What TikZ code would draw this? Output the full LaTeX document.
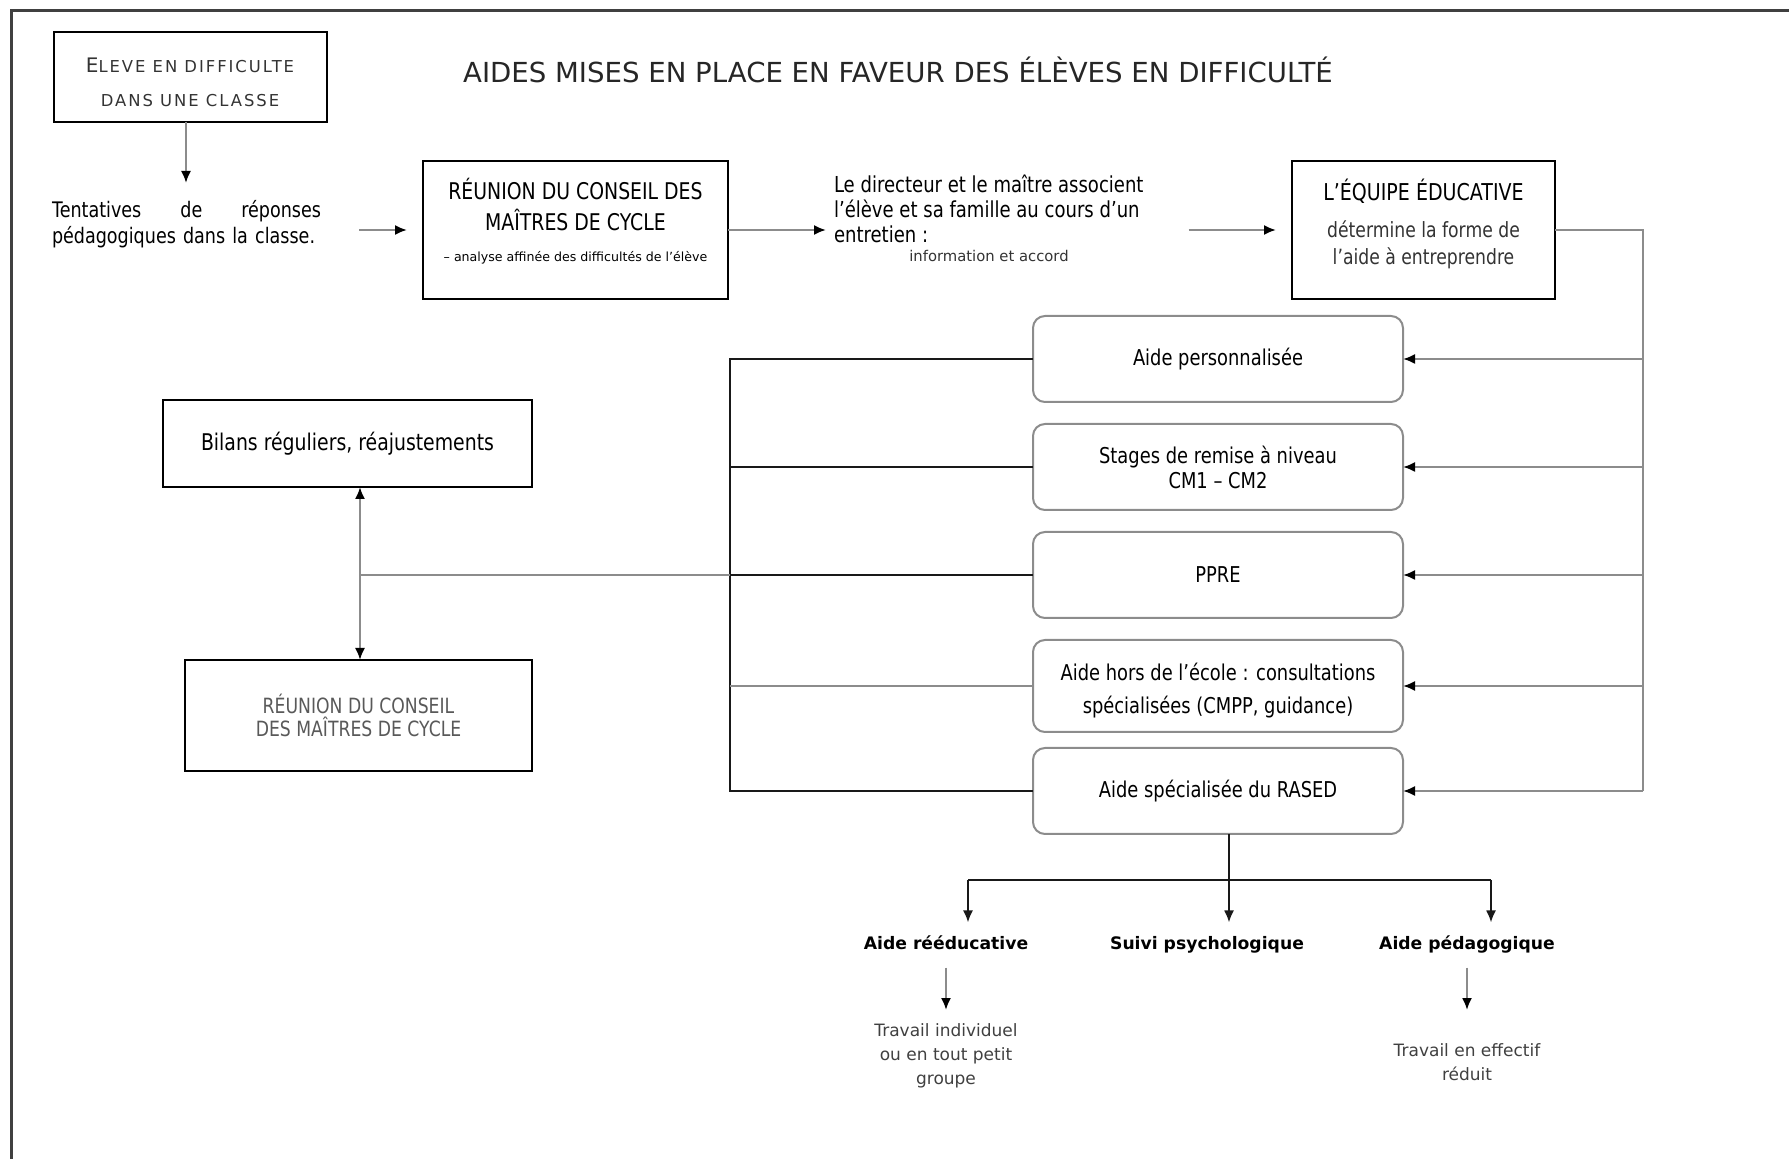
\documentclass[tikz,border=0pt]{standalone}
\usepackage{fontspec}
\setmainfont{DejaVu Sans}[FakeStretch=0.82]
\newfontfamily\titlefont{DejaVu Sans}
\newfontfamily\spacedfont{DejaVu Sans}[LetterSpace=12]
\usetikzlibrary{arrows.meta}

\begin{document}
\begin{tikzpicture}[x=0.5pt,y=-0.5pt,inner sep=0pt,outer sep=0pt,
sqblock/.style={draw,rectangle,line width=1pt,align=center},
aidblock/.style={draw=black!45,rounded corners=6pt,line width=1pt,minimum width=185pt,minimum height=43pt,align=center,font=\fontsize{10.9}{12.5}\selectfont},
sublabel/.style={inner sep=7pt,text height=6.5pt,text depth=2pt,font=\titlefont\bfseries\fontsize{8.6}{10}\selectfont},
worknote/.style={anchor=north,align=center,text=black!75,font=\titlefont\fontsize{8.5}{11.8}\selectfont},
gline/.style={draw=black!45,line width=1pt},
bline/.style={draw=black!90,line width=1pt},
garrow/.style={gline,-{Latex[length=6pt,width=5pt,color=black]}},
barrow/.style={bline,-{Latex[length=6pt,width=5pt]}}]

\useasboundingbox (0,0) rectangle (1789,1159);
\clip (0,0) rectangle (1789,1159);

%%% Frame (only top and left edges are on the page)
\draw[line width=1.5pt,black!75] (11,1200) -- (11,11) -- (1800,11);

%%% Title
\draw (898,70) node[font=\titlefont\fontsize{13.8}{15}\selectfont,text=black!85] (title) {AIDES MISES EN PLACE EN FAVEUR DES ÉLÈVES EN DIFFICULTÉ};

%%%%% Top line %%%%%
\draw (190,77) node[sqblock,minimum width=136.5pt,minimum height=45pt,text=black!80,font=\spacedfont\fontsize{8.2}{17}\selectfont] (eleve) {\rule{0pt}{13pt}{\fontsize{10}{17}\selectfont E}LEVE EN DIFFICULTE\\DANS UNE CLASSE};
\draw (52,224) node[anchor=west,text width=134.5pt,align=left,font=\fontsize{10.7}{13}\selectfont] (tent) {Tentatives\hfill de\hfill réponses\\pédagogiques dans la classe.};
\draw (575.5,230) node[sqblock,minimum width=152.5pt,minimum height=69pt,text depth=10pt,font=\fontsize{11.5}{15.5}\selectfont] (reunion1) {RÉUNION DU CONSEIL DES\\MAÎTRES DE CYCLE\\[0pt]\titlefont\fontsize{6.3}{7}\selectfont – analyse affinée des difficultés de l’élève};
\draw (834,175) node[anchor=north west,align=left,font=\fontsize{11}{12.5}\selectfont] (direct) {Le directeur et le maître associent\\l’élève et sa famille au cours d’un\\entretien :};
\draw (989,256) node[font=\titlefont\fontsize{7.4}{8}\selectfont,text=black!80] (accord) {information et accord};
\draw (1423.5,230) node[sqblock,minimum width=131.5pt,minimum height=69pt,text depth=8.5pt,font=\fontsize{11.6}{13.5}\selectfont] (equipe) {L’ÉQUIPE ÉDUCATIVE\\[5pt]\fontsize{10.5}{12.5}\selectfont\color{black!80}détermine la forme de\\\fontsize{10.5}{12.5}\selectfont\color{black!80}l’aide à entreprendre};

	%%% Column of aids
	\draw (1218,359) node[aidblock] (aid1) {Aide personnalisée};
	\draw (1218,467) node[aidblock] (aid2) {Stages de remise à niveau\\CM1 – CM2};
	\draw (1218,575) node[aidblock] (aid3) {PPRE};
	\draw (1218,686) node[aidblock,minimum height=46pt,text height=30pt,font=\fontsize{10.9}{16.5}\selectfont] (aid4) {Aide hors de l’école : consultations\\spécialisées (CMPP, guidance)};
	\draw (1218,791) node[aidblock] (aid5) {Aide spécialisée du RASED};

	%%% Left side
	\draw (347.5,443.5) node[sqblock,minimum width=184.5pt,minimum height=43.5pt,font=\fontsize{11.5}{13}\selectfont] (bilans) {Bilans réguliers, réajustements};
	\draw (358.5,715.5) node[sqblock,minimum width=173.5pt,minimum height=55.5pt,text=black!65,font=\fontsize{10.5}{11.5}\selectfont] (reunion2) {RÉUNION DU CONSEIL\\DES MAÎTRES DE CYCLE};

	%%% Below RASED
	\draw (946,945) node[sublabel] (reed) {Aide rééducative};
	\draw (1207,945) node[sublabel] (suivi) {Suivi psychologique};
	\draw (1467,945) node[sublabel] (peda) {Aide pédagogique};
	\draw (946,1024) node[worknote] (trav1) {Travail individuel\\ou en tout petit\\groupe};
	\draw (1467,1044) node[worknote] (trav2) {Travail en effectif\\réduit};
%%%%%%%%%%%%%%%%%%%%%%%%%

%%% Top line connections
\draw[garrow] (eleve.south -| 186,0) -- (186,183);
\draw[garrow,shorten <=19pt,shorten >=8pt] (tent.east |- reunion1.west) -- (reunion1.west);
\draw[garrow,shorten >=4pt] (reunion1.east) -- (reunion1.east -| direct.west);
\draw[garrow,shorten <=22.5pt,shorten >=8pt] (reunion1.east -| direct.east) -- (equipe.west);

%%% Right rail from the team to every aid
	\coordinate (rail) at (1643,0);
	\draw[gline] (equipe.east) -| (rail |- aid5.east);
	\foreach \b in {aid1,aid2,aid3,aid4,aid5}
		\draw[garrow] (rail |- \b.east) -- (\b.east);

%%% Left rail from the aids to the reviews
	\coordinate (lrail) at (730,0);
	\coordinate (bx) at (360,0);
	\draw[bline] (aid1.west) -| (lrail |- aid5.west) -- (aid5.west);
	\draw[bline] (lrail |- aid2.west) -- (aid2.west);
	\draw[bline] (lrail |- aid3.west) -- (aid3.west);
	\draw[gline] (lrail |- aid4.west) -- (aid4.west);
	\draw[gline] (bx |- aid3.west) -- (lrail |- aid3.west);
\draw[gline,{Latex[length=6pt,width=5pt,color=black]}-{Latex[length=6pt,width=5pt,color=black]}] (bx |- bilans.south) -- (bx |- reunion2.north);

%%% RASED split
	\coordinate (split) at (1229,880);
	\draw[bline] (split |- aid5.south) -- (split);
	\draw[bline] (split -| 968,0) -- (split -| 1491,0);
\draw[barrow] (split -| 968,0) -- (968,0 |- reed.north);
\draw[barrow] (split) -- (split |- suivi.north);
\draw[barrow] (split -| 1491,0) -- (1491,0 |- peda.north);
\draw[garrow,shorten >=7pt] (reed.south) -- (trav1.north);
\draw[garrow,shorten >=7pt] (peda.south) -- (peda.south |- trav1.north);

\end{tikzpicture}
\end{document}
